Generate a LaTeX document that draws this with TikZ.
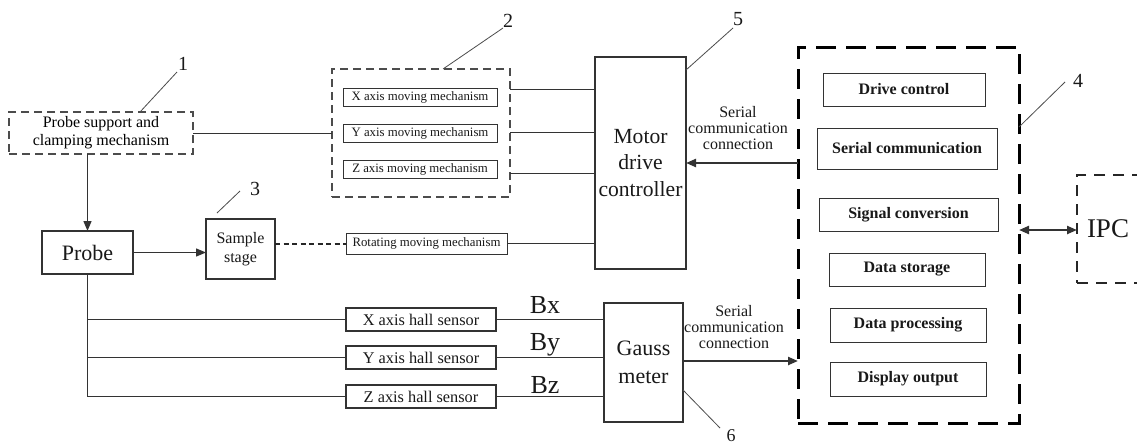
\documentclass[tikz,border=0pt]{standalone}
\usepackage{fontspec}
\setmainfont{Liberation Serif}
\usetikzlibrary{arrows.meta}
\newcommand{\fs}[1]{\fontsize{#1pt}{1.2\dimexpr#1pt\relax}\selectfont}
\begin{document}
\begin{tikzpicture}[x={(1pt,0)},y={(0,-1pt)},
  box/.style={draw=black!80, line width=1.1pt, inner sep=0pt, outer sep=0pt, align=center, text=black!90},
  sbox/.style={box, line width=0.9pt},
  dbox/.style={draw=black!70, line width=1.1pt, inner sep=0pt, outer sep=0pt, align=center, dash pattern=on 8pt off 5pt},
  bigdash/.style={draw=black, line width=3pt, inner sep=0pt, outer sep=0pt, dash pattern=on 20pt off 10pt},
  ipcdash/.style={draw=black!85, line width=2pt, inner sep=0pt, outer sep=0pt, dash pattern=on 11pt off 8pt},
  conn/.style={draw=black!80, line width=1pt},
  arr/.style={conn, line width=1.3pt, -{Triangle[length=10pt,width=8pt]}},
  thickarr/.style={conn, line width=2.2pt, -{Triangle[length=10pt,width=8pt]}},
  dotted line/.style={draw=black!85, line width=2pt, dash pattern=on 5pt off 3.5pt},
  leader/.style={draw=black!70, line width=0.8pt},
  num/.style={inner sep=0pt, anchor=base, font=\fs{20}, text=black!90},
  lbl/.style={inner sep=0pt, align=center, font=\fs{16}, text=black!90}
]
\clip (0,0) rectangle (1137,445);
\fill[white] (0,0) rectangle (1137,445);

% nodes
\node[dbox, minimum width=184, minimum height=42, font=\fs{16}] (sup) at (101,133) {Probe support and\\[-1pt]clamping mechanism};
\node[dbox, minimum width=178, minimum height=128] (grp) at (421,133) {};
\node[sbox, minimum width=154, minimum height=18, font=\fs{12.8}] (xm) at (420,97) {X axis moving mechanism};
\node[sbox, minimum width=154, minimum height=18, font=\fs{12.8}] (ym) at (420,133) {Y axis moving mechanism};
\node[sbox, minimum width=154, minimum height=18, font=\fs{12.8}] (zm) at (420,169.5) {Z axis moving mechanism};
\node[box, minimum width=91, minimum height=212, font=\fs{21.6}] (motor) at (640.5,163) {Motor\\[1pt]drive\\[1pt]controller};
\node[sbox, minimum width=161, minimum height=21, font=\fs{12.8}] (rot) at (426.5,243.5) {Rotating moving mechanism};
\node[box, minimum width=91, minimum height=43, font=\fs{22}] (probe) at (87.5,252.5) {Probe};
\node[box, minimum width=69, minimum height=60, font=\fs{16}] (stage) at (240.5,249) {Sample\\[0pt]stage};
\node[box, minimum width=150, minimum height=23, font=\fs{16.3}] (hx) at (421,319.5) {X axis hall sensor};
\node[box, minimum width=150, minimum height=23, font=\fs{16.3}] (hy) at (421,357.5) {Y axis hall sensor};
\node[box, minimum width=150, minimum height=23, font=\fs{16.3}] (hz) at (421,396.5) {Z axis hall sensor};
\node[box, minimum width=79, minimum height=119, font=\fs{22}] (gauss) at (643.5,362.5) {Gauss\\[2pt]meter};

\node[bigdash, minimum width=221, minimum height=376] (pc) at (908.5,235) {};
\node[sbox, minimum width=162, minimum height=33, font=\bfseries\fs{16}] (dc) at (904,89.5) {Drive control};
\node[sbox, minimum width=180, minimum height=41, font=\bfseries\fs{16}] (sc) at (907,148.5) {Serial communication};
\node[sbox, minimum width=179, minimum height=33, font=\bfseries\fs{16}] (sg) at (908.5,214.5) {Signal conversion};
\node[sbox, minimum width=156, minimum height=33, font=\bfseries\fs{16}] (ds) at (907,269.5) {Data storage};
\node[sbox, minimum width=156, minimum height=34, font=\bfseries\fs{16}] (dp) at (908,325) {Data processing};
\node[sbox, minimum width=156, minimum height=34, font=\bfseries\fs{16}] (do) at (908,379) {Display output};

\node[ipcdash, minimum width=93, minimum height=108] (ipc) at (1123.5,229) {};
\node[inner sep=0pt, font=\fs{27}, text=black!90] (ipct) at (1108,229) {IPC};

% helper coordinates
\coordinate (y89) at (0,89);
\coordinate (y132) at (0,132);
\coordinate (y173) at (0,173);
\coordinate (y163) at (0,163);
\coordinate (y361) at (0,361);
\coordinate (y230) at (0,230);

% connectors
\draw[conn] (sup.east) -- (grp.west);
\draw[conn] (grp.east |- y89) -- (motor.west |- y89);
\draw[conn] (grp.east |- y132) -- (motor.west |- y132);
\draw[conn] (grp.east |- y173) -- (motor.west |- y173);
\draw[conn] (rot.east) -- (motor.west |- rot.east);
\draw[dotted line] (stage.east |- rot.west) -- (rot.west);
\draw[arr] (probe.north |- sup.south) -- (probe.north);
\draw[arr] (probe.east) -- (stage.west |- probe.east);
\draw[conn] (probe.south) -- (probe.south |- hz.west) -- (hz.west);
\draw[conn] (probe.south |- hx.west) -- (hx.west);
\draw[conn] (probe.south |- hy.west) -- (hy.west);
\draw[conn] (hx.east) -- (gauss.west |- hx.east);
\draw[conn] (hy.east) -- (gauss.west |- hy.east);
\draw[conn] (hz.east) -- (gauss.west |- hz.east);
\draw[thickarr] (gauss.east |- y361) -- (pc.west |- y361);
\draw[thickarr] (pc.west |- y163) -- (motor.east |- y163);
\draw[thickarr, {Triangle[length=10pt,width=8pt]}-{Triangle[length=10pt,width=8pt]}] (pc.east |- y230) -- (ipc.west |- y230);

% signal labels
\node[inner sep=0pt, anchor=base, font=\fs{26}, text=black!90] (bx) at (545,313) {Bx};
\node[inner sep=0pt, anchor=base, font=\fs{26}, text=black!90] (by) at (545,350) {By};
\node[inner sep=0pt, anchor=base, font=\fs{26}, text=black!90] (bz) at (545,393) {Bz};
\node[lbl] (s1) at (738,128) {Serial\\[-3pt]communication\\[-3pt]connection};
\node[lbl] (s2) at (734,327) {Serial\\[-3pt]communication\\[-3pt]connection};

% callouts
\node[num] (n1) at (183,70) {1};
\node[num] (n2) at (508,27) {2};
\node[num] (n3) at (255,195) {3};
\node[num] (n4) at (1078,87) {4};
\node[num] (n5) at (738,25) {5};
\node[num, font=\fs{18}] (n6) at (731,441) {6};
\coordinate (c1) at (140,112);
\coordinate (c2) at (443,69);
\coordinate (c3) at (217,213);
\coordinate (c4) at (1019,127);
\coordinate (c5) at (686,70);
\coordinate (c6) at (683,390);
\draw[leader] (c1) -- (177,72);
\draw[leader] (c2) -- (503,28);
\draw[leader] (c3) -- (240,191);
\draw[leader] (c4) -- (1065,82);
\draw[leader] (c5) -- (733,28);
\draw[leader] (c6) -- (720,428);
\end{tikzpicture}
\end{document}
